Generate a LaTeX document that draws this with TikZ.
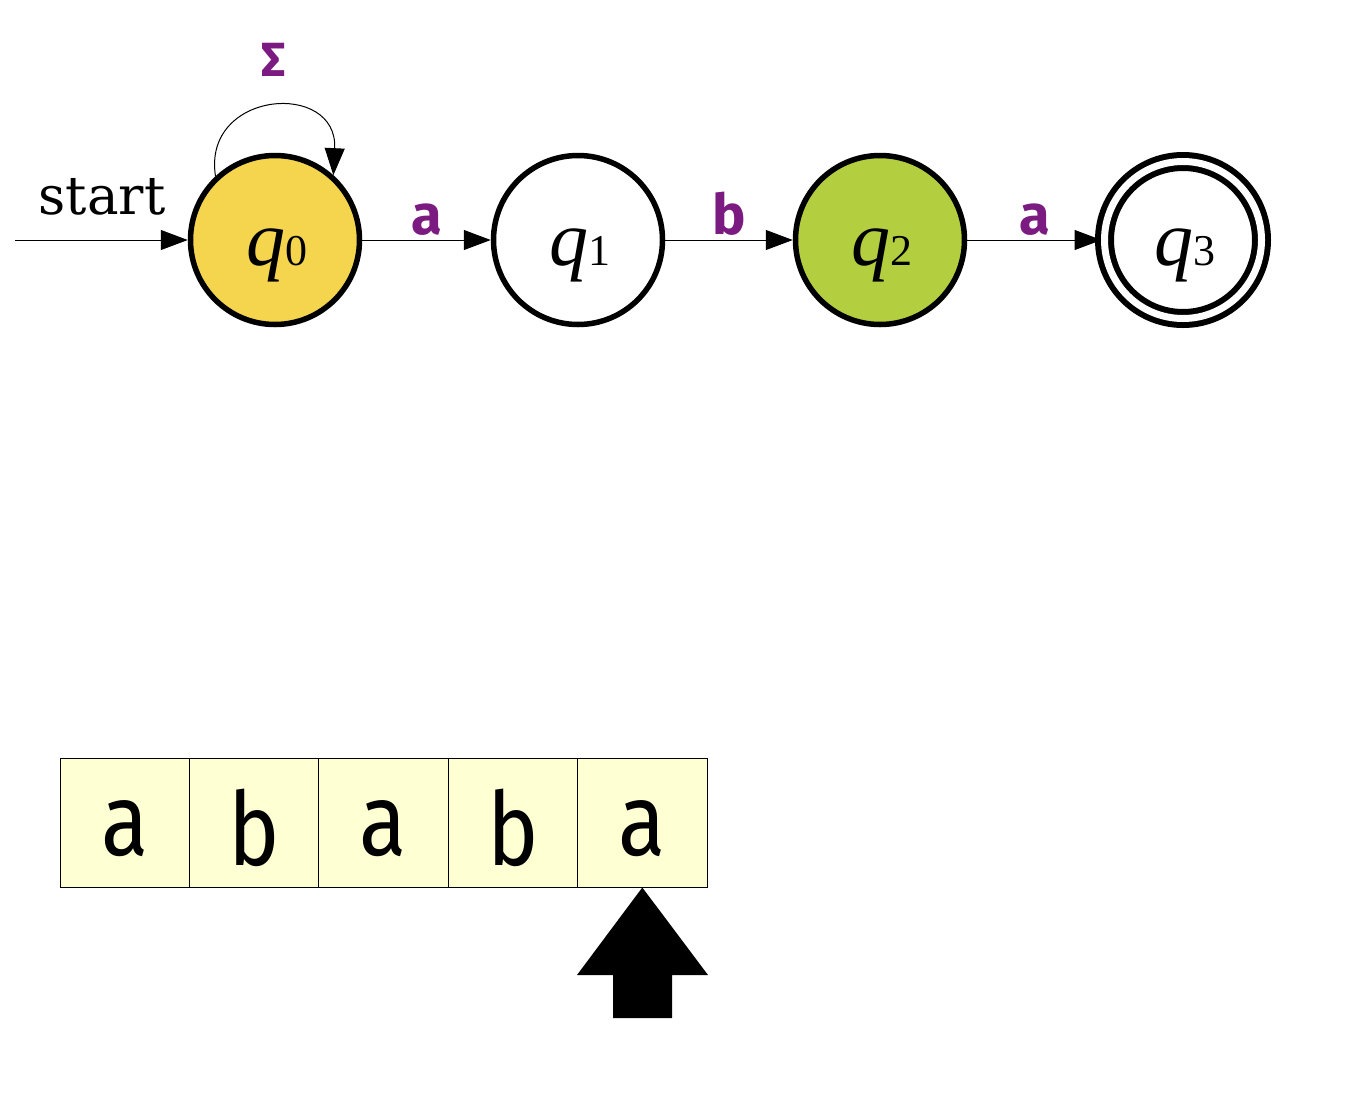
\documentclass[tikz,border=0pt]{standalone}
\usepackage{fontspec}
\usetikzlibrary{arrows.meta}
\newfontfamily\startfont{DejaVu Serif}
\newfontfamily\qfont{Liberation Serif}
\newfontfamily\labfont{Fira Sans}
\newfontfamily\tapefont[FakeStretch=0.85]{Fira Sans}
\definecolor{labpurple}{HTML}{7B1A80}
\definecolor{qyellow}{HTML}{F6D54E}
\definecolor{qgreen}{HTML}{B3CF3F}
\definecolor{tapefill}{HTML}{FFFFD4}
\newcommand{\qlab}[1]{{\qfont\itshape\fontsize{78}{78}\selectfont q}{\qfont\fontsize{44}{44}\selectfont #1}}
\tikzset{
  state/.style={circle, draw=black, line width=5.5pt, minimum size=169pt, inner sep=0pt},
  acc/.style={state, double=white, double distance=7pt, line width=6pt, minimum size=157pt},
  edge/.style={draw=black, line width=1pt, -{Triangle[length=27pt,width=20pt]}},
  elab/.style={text=labpurple, font=\labfont\bfseries\fontsize{56}{56}\selectfont},
  cell/.style={draw=black, line width=1pt, fill=tapefill, minimum width=129.4pt, minimum height=129pt, inner sep=0pt, text depth=0pt, font=\tapefont\fontsize{102}{102}\selectfont},
}
\begin{document}
\begin{tikzpicture}[x=1pt,y=-1pt]
\useasboundingbox (0,0) rectangle (1360,1098);
\node[state, fill=qyellow] (q0) at (275,240) {};
\node[state, fill=white] (q1) at (578,240) {};
\node[state, fill=qgreen] (q2) at (880,240) {};
\node[acc, fill=white] (q3) at (1183,240) {};
\node[anchor=base] (t0) at (277,265) {\qlab{0}};
\node[anchor=base] (t1) at (580,265) {\qlab{1}};
\node[anchor=base] (t2) at (882,265) {\qlab{2}};
\node[anchor=base] (t3) at (1185,265) {\qlab{3}};
\coordinate (s) at (15,240);
\node[font=\startfont\fontsize{53}{53}\selectfont] (st) at (102,197) {start};
\draw[edge] (s) -- (q0.west);
\draw[edge] (q0.east) -- node[elab, above=1pt] (la) {a} (q1.west);
\draw[edge] (q1.east) -- node[elab, above=1pt] (lb) {b} (q2.west);
\draw[edge] (q2.east) -- node[elab, above=1pt] (lc) {a} (q3.west);
\draw[edge] (q0.133) .. controls (202,90) and (338,80) .. (q0.48);
\node[elab, font=\labfont\bfseries\fontsize{48}{48}\selectfont] (sig) at (274,60) {Σ};
\node[cell] (c1) at (124.7,822.5) {\raisebox{-10pt}{a}};
\node[cell] (c2) at (254.1,822.5) {\raisebox{-10pt}{b}};
\node[cell] (c3) at (383.5,822.5) {\raisebox{-10pt}{a}};
\node[cell] (c4) at (512.9,822.5) {\raisebox{-10pt}{b}};
\node[cell] (c5) at (642.3,822.5) {\raisebox{-10pt}{a}};
\fill[black] (c5.south) -- (708,975) -- (672,975) -- (672,1018) -- (613,1018) -- (613,975) -- (577,975) -- cycle;
\end{tikzpicture}
\end{document}
